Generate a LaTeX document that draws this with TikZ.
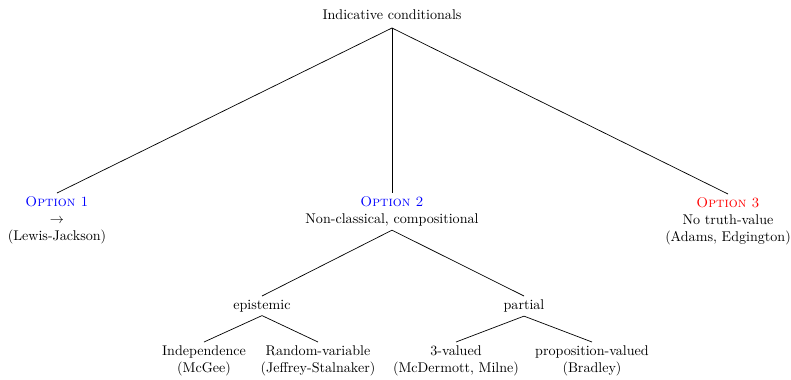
\documentclass[tikz,border=0pt]{standalone}
\definecolor{optblue}{rgb}{0,0,1}
\definecolor{optred}{rgb}{1,0,0}
\begin{document}
\begin{tikzpicture}[x=0.71pt,y=-0.71pt,
  tn/.style={align=center, inner xsep=2pt, inner ysep=2.5pt, anchor=north},
  br/.style={draw=black, line width=0.5pt}]
\useasboundingbox (0,0) rectangle (791,379);
\node[align=center, anchor=south, inner ysep=5.5pt] (root) at (392,28) {Indicative conditionals};
\node[tn] (o1) at (57,193) {\textcolor{optblue}{\textsc{Option 1}}\\$\rightarrow$\\(Lewis-Jackson)};
\node[tn] (o2) at (392,193) {\textcolor{optblue}{\textsc{Option 2}}\\Non-classical, compositional};
\node[tn] (o3) at (728,194) {\textcolor{optred}{\textsc{Option 3}}\\No truth-value\\(Adams, Edgington)};
\node[tn] (epi) at (262,296) {epistemic};
\node[tn] (par) at (524,296) {partial};
\node[tn] (ind) at (204,342) {Independence\\(McGee)};
\node[tn] (rv) at (318,342) {Random-variable\\(Jeffrey-Stalnaker)};
\node[tn] (tv) at (456,342) {3-valued\\(McDermott, Milne)};
\node[tn] (pv) at (592,342) {proposition-valued\\(Bradley)};
\draw[br] (root.south) -- (o1.north);
\draw[br] (root.south) -- (o2.north);
\draw[br] (root.south) -- (o3.north);
\draw[br] (o2.south) -- (epi.north);
\draw[br] (o2.south) -- (par.north);
\draw[br] (epi.south) -- (ind.north);
\draw[br] (epi.south) -- (rv.north);
\draw[br] (par.south) -- (tv.north);
\draw[br] (par.south) -- (pv.north);
\end{tikzpicture}
\end{document}
